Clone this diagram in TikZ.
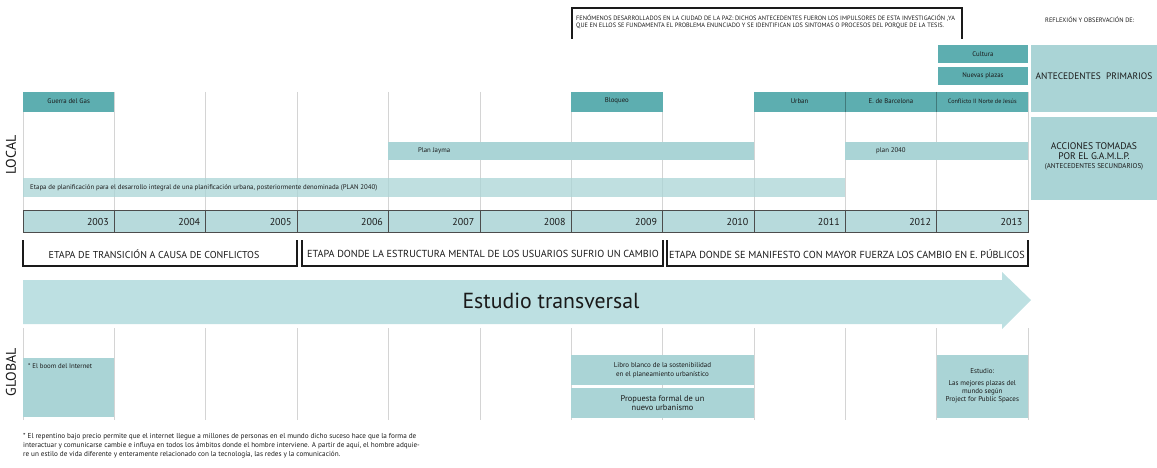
\documentclass[tikz,border=0pt]{standalone}
\usepackage{fontspec}
\setmainfont{PT Sans}
\definecolor{dteal}{HTML}{5DAEB0}
\definecolor{lteal}{HTML}{AAD4D6}
\definecolor{vteal}{HTML}{BDE0E2}
\definecolor{gridc}{HTML}{D4D4D4}
\definecolor{inkc}{HTML}{1A1A1A}
\begin{document}
\begin{tikzpicture}[x=1pt,y=-1pt,
  gridline/.style={draw=gridc,line width=0.6pt},
  darkbox/.style={fill=dteal},
  lightbox/.style={fill=lteal},
  tiny/.style={font=\fontsize{6.8}{8}\selectfont,text=inkc,inner sep=1pt},
  small/.style={font=\fontsize{6.3}{7.6}\selectfont,text=inkc},
  bracket/.style={draw=inkc,line width=1.3pt},
  phase/.style={font=\fontsize{10.2}{11}\selectfont,text=inkc},
  yearbox/.style={fill=lteal!85,draw=black!70,line width=0.6pt},
  side/.style={font=\fontsize{14}{15}\selectfont,text=inkc,rotate=90}
]
\useasboundingbox (0,0) rectangle (1157,468);
\def\cw{91.36}
% ---------- top note ----------
\draw[bracket,line width=1.6pt] (572,39) -- (572,8) -- (962,8) -- (962,39);
\node[small,align=left,anchor=west,inner sep=0pt] (note) at (576,22) {FENÓMENOS DESARROLLADOS EN LA CIUDAD DE LA PAZ: DICHOS ANTECEDENTES FUERON LOS IMPULSORES DE ESTA INVESTIGACIÓN ,YA\\QUE EN ELLOS SE FUNDAMENTA EL PROBLEMA ENUNCIADO Y SE IDENTIFICAN LOS SINTOMAS O PROCESOS DEL PORQUE DE LA TESIS.};
\node[font=\fontsize{6.4}{7}\selectfont,text=inkc,anchor=west,inner sep=0pt] (refl) at (1045,20) {REFLEXIÓN Y OBSERVACIÓN DE:};
% ---------- right side boxes ----------
\fill[darkbox] (938,45) rectangle (1028,63);
\node[tiny] (cult) at (983,54) {Cultura};
\fill[darkbox] (938,67) rectangle (1028,85);
\node[tiny] (nuev) at (983,76) {Nuevas plazas};
\fill[lightbox] (1031,45) rectangle (1157,112);
\node[font=\fontsize{9.4}{11}\selectfont,text=inkc] (prim) at (1094,76) {ANTECEDENTES\ \ PRIMARIOS};
\fill[lightbox] (1031,117) rectangle (1157,200);
\node[font=\fontsize{9.6}{10.5}\selectfont,text=inkc,align=center] (acc) at (1094,156) {ACCIONES TOMADAS\\POR EL G.A.M.L.P.\\[-2pt]{\fontsize{7}{7}\selectfont (ANTECEDENTES SECUNDARIOS)}};
% ---------- grids ----------
\foreach \i in {0,...,11} \draw[gridline] ({23+\cw*\i},92) -- ({23+\cw*\i},210);
\foreach \i in {0,...,11} \draw[gridline] ({23+\cw*\i},328) -- ({23+\cw*\i},420);
% long bar
\fill[lightbox,opacity=0.75] (23,178) rectangle ({23+\cw*9},197);
\node[tiny,anchor=west] (etapa) at (29,187.5) {Etapa de planificación para el desarrollo integral de una planificación urbana, posteriormente denominada (PLAN 2040)};
% plan jayma / plan 2040
\fill[lightbox] ({23+\cw*4},142) rectangle ({23+\cw*8},160);
\node[tiny] (jayma) at ({23+\cw*4.5},151) {Plan Jayma};
\fill[lightbox] ({23+\cw*9},142) rectangle ({23+\cw*11},160);
\node[tiny] (p2040) at ({23+\cw*9.5},151) {plan 2040};
% top dark row
\fill[darkbox] (23,92) rectangle ({23+\cw},112);
\node[tiny] (gas) at ({23+\cw*0.5},101) {Guerra del Gas};
\fill[darkbox] ({23+\cw*6},92) rectangle ({23+\cw*7},112);
\node[tiny] (bloq) at ({23+\cw*6.5},101) {Bloqueo};
\fill[darkbox] ({23+\cw*8},92) rectangle ({23+\cw*11},112);
\draw[draw=dteal!70!black,line width=0.4pt] ({23+\cw*9},92) -- ({23+\cw*9},112) ({23+\cw*10},92) -- ({23+\cw*10},112);
\node[tiny] (urban) at ({23+\cw*8.5},101) {Urban};
\node[tiny] (barc) at ({23+\cw*9.5},101) {E. de Barcelona};
\node[tiny,font=\fontsize{6.2}{7}\selectfont] (conf) at ({23+\cw*10.5},101) {Conflicto II Norte de Jesús};
% ---------- years ----------
\foreach \i in {0,...,10} {
  \pgfmathtruncatemacro{\yr}{2003+\i}
  \draw[yearbox] ({23+\cw*\i},210) rectangle ({23+\cw*(\i+1)},232);
  \node[font=\fontsize{10}{11}\selectfont,text=inkc,anchor=east] (y\yr) at ({23+\cw*(\i+1)-2},221.5) {\yr};
}
% ---------- phase brackets ----------
\draw[bracket] (23,240) -- (23,266) -- (297,266) -- (297,240);
\node[phase,font=\fontsize{10}{11}\selectfont] (ph1) at (154,254) {ETAPA DE TRANSICIÓN A CAUSA DE CONFLICTOS};
\draw[bracket] (302,240) -- (302,266) -- (663,266) -- (663,240);
\node[phase] (ph2) at (483,254) {ETAPA DONDE LA ESTRUCTURA MENTAL DE LOS USUARIOS SUFRIO UN CAMBIO};
\draw[bracket] (667,240) -- (667,266) -- (1028,266) -- (1028,240);
\node[phase] (ph3) at (847,254) {ETAPA DONDE SE MANIFESTO CON MAYOR FUERZA LOS CAMBIO EN E. PÚBLICOS};
% ---------- big arrow ----------
\fill[vteal] (23,280) -- (1002,280) -- (1002,272) -- (1031,300) -- (1002,329) -- (1002,324) -- (23,324) -- cycle;
\node[font=\fontsize{21.8}{24}\selectfont,text=inkc] (est) at (551,301) {Estudio transversal};
% ---------- global boxes ----------
\fill[lightbox] (23,358) rectangle ({23+\cw},417);
\node[tiny,anchor=west] (boom) at (27,366) {* El boom del Internet};
\fill[lightbox] ({23+\cw*6},355) rectangle ({23+\cw*8},385);
\node[tiny,align=center,font=\fontsize{7}{8.5}\selectfont] (libro) at ({23+\cw*7},370) {Libro blanco de la sostenibilidad\\en el planeamiento urbanístico};
\fill[lightbox] ({23+\cw*6},388) rectangle ({23+\cw*8},418);
\node[font=\fontsize{8.4}{9.5}\selectfont,text=inkc,align=center] (prop) at ({23+\cw*7},403) {Propuesta formal de un\\nuevo urbanismo};
\fill[lightbox] ({23+\cw*10},355) rectangle ({23+\cw*11},418);
\node[tiny,align=center,font=\fontsize{7}{8}\selectfont] (estu) at ({23+\cw*10.5},386) {Estudio:\\[4pt]Las mejores plazas del\\mundo según\\Project for Public Spaces};
% ---------- side labels ----------
\node[side] (local) at (11,155) {LOCAL};
\node[side] (global) at (11,372) {GLOBAL};
% ---------- footnote ----------
\node[text=inkc,align=left,anchor=north west,inner sep=0pt,font=\fontsize{7.2}{9}\selectfont] (foot) at (23,433) {* El repentino bajo precio permite que el internet llegue a millones de personas en el mundo dicho suceso hace que la forma de\\interactuar y comunicarse cambie e influya en todos los ámbitos donde el hombre interviene. A partir de aquí, el hombre adquie-\\re un estilo de vida diferente y enteramente relacionado con la tecnología, las redes y la comunicación.};
\end{tikzpicture}
\end{document}
